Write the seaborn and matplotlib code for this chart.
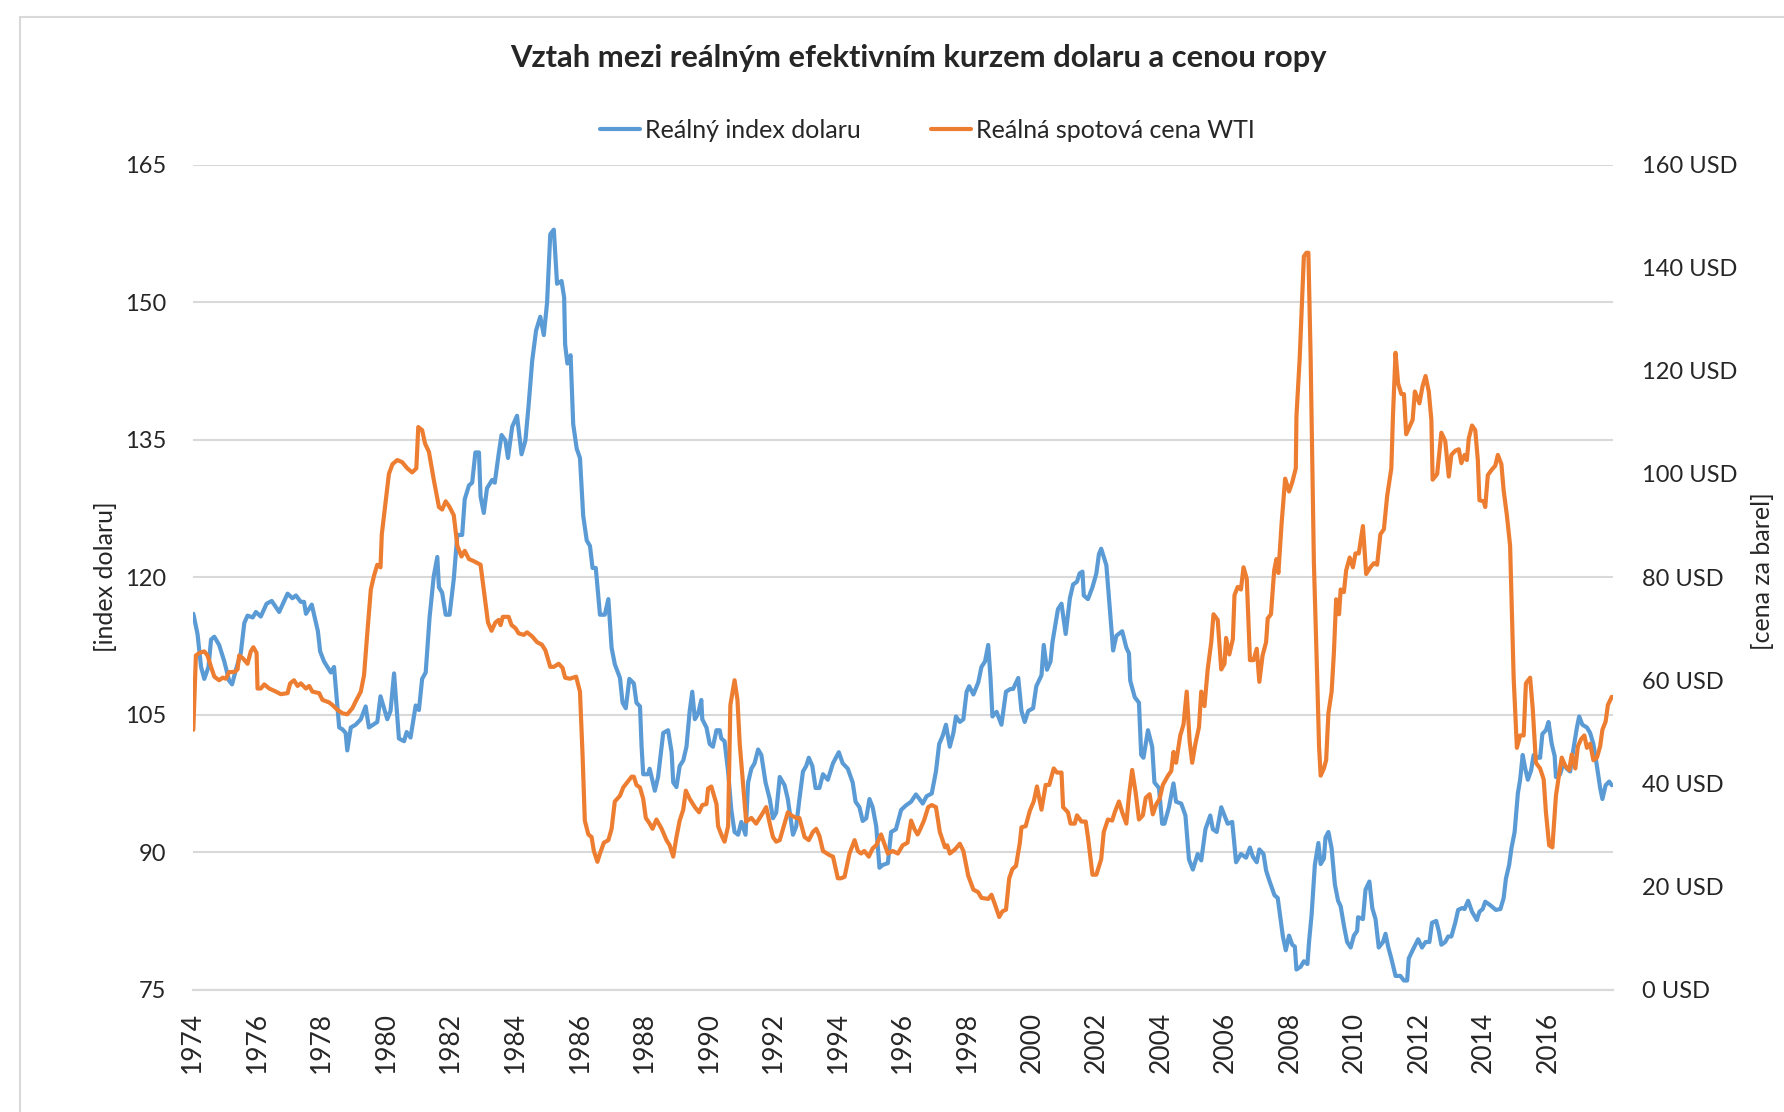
import numpy as np
import pandas as pd
import matplotlib
matplotlib.use("Agg")
import matplotlib.pyplot as plt
import seaborn as sns
from matplotlib.patches import Rectangle

# === Data ===
dollar_years = [
    1974.02, 1974.15, 1974.26, 1974.36, 1974.49, 1974.57, 1974.67, 1974.82, 1974.98, 1975.13,
    1975.22, 1975.34, 1975.49, 1975.60, 1975.70, 1975.86, 1975.96, 1976.11, 1976.29, 1976.45,
    1976.68, 1976.94, 1977.09, 1977.20, 1977.35, 1977.45, 1977.51, 1977.69, 1977.88, 1977.95,
    1978.07, 1978.28, 1978.38, 1978.54, 1978.64, 1978.74, 1978.79, 1978.90, 1979.05, 1979.21,
    1979.36, 1979.46, 1979.72, 1979.82, 1980.03, 1980.13, 1980.24, 1980.39, 1980.55, 1980.63,
    1980.75, 1980.91, 1981.01, 1981.11, 1981.22, 1981.34, 1981.47, 1981.58, 1981.63, 1981.73,
    1981.84, 1981.96, 1982.09, 1982.20, 1982.35, 1982.43, 1982.56, 1982.66, 1982.76, 1982.87,
    1982.92, 1983.02, 1983.12, 1983.28, 1983.36, 1983.48, 1983.57, 1983.69, 1983.77, 1983.90,
    1984.05, 1984.19, 1984.31, 1984.41, 1984.52, 1984.64, 1984.77, 1984.88, 1984.98, 1985.08,
    1985.19, 1985.29, 1985.43, 1985.51, 1985.54, 1985.61, 1985.71, 1985.79, 1985.90, 1986.00,
    1986.10, 1986.21, 1986.31, 1986.39, 1986.49, 1986.62, 1986.77, 1986.88, 1986.98, 1987.08,
    1987.24, 1987.32, 1987.42, 1987.53, 1987.67, 1987.75, 1987.86, 1987.91, 1987.96, 1988.11,
    1988.16, 1988.32, 1988.42, 1988.58, 1988.73, 1988.84, 1988.89, 1988.99, 1989.09, 1989.20,
    1989.30, 1989.40, 1989.48, 1989.56, 1989.66, 1989.76, 1989.79, 1989.92, 1990.02, 1990.12,
    1990.23, 1990.33, 1990.38, 1990.48, 1990.59, 1990.69, 1990.79, 1990.90, 1991.00, 1991.13,
    1991.21, 1991.31, 1991.41, 1991.52, 1991.62, 1991.75, 1991.88, 1991.98, 1992.08, 1992.19,
    1992.34, 1992.44, 1992.60, 1992.70, 1992.80, 1992.91, 1993.01, 1993.09, 1993.20, 1993.30,
    1993.42, 1993.53, 1993.68, 1993.84, 1994.02, 1994.14, 1994.30, 1994.45, 1994.54, 1994.66,
    1994.76, 1994.87, 1994.97, 1995.07, 1995.18, 1995.28, 1995.38, 1995.54, 1995.64, 1995.79,
    1995.95, 1996.10, 1996.26, 1996.41, 1996.52, 1996.62, 1996.74, 1996.90, 1997.03, 1997.13,
    1997.24, 1997.34, 1997.46, 1997.57, 1997.65, 1997.77, 1997.88, 1997.98, 1998.06, 1998.19,
    1998.34, 1998.44, 1998.55, 1998.65, 1998.72, 1998.78, 1998.91, 1999.06, 1999.20, 1999.34,
    1999.42, 1999.58, 1999.68, 1999.78, 1999.89, 2000.04, 2000.14, 2000.30, 2000.37, 2000.47,
    2000.58, 2000.64, 2000.74, 2000.81, 2000.92, 2001.05, 2001.18, 2001.28, 2001.40, 2001.48,
    2001.57, 2001.61, 2001.74, 2001.88, 2002.00, 2002.08, 2002.15, 2002.31, 2002.41, 2002.52,
    2002.62, 2002.80, 2002.93, 2003.01, 2003.05, 2003.19, 2003.32, 2003.39, 2003.46, 2003.60,
    2003.73, 2003.80, 2003.94, 2004.04, 2004.11, 2004.25, 2004.39, 2004.47, 2004.63, 2004.76,
    2004.87, 2004.99, 2005.14, 2005.25, 2005.38, 2005.53, 2005.61, 2005.73, 2005.87, 2005.97,
    2006.07, 2006.21, 2006.33, 2006.48, 2006.64, 2006.76, 2006.85, 2006.97, 2007.05, 2007.18,
    2007.26, 2007.36, 2007.52, 2007.62, 2007.71, 2007.78, 2007.87, 2007.97, 2008.07, 2008.15,
    2008.20, 2008.33, 2008.43, 2008.54, 2008.59, 2008.67, 2008.77, 2008.88, 2008.95, 2009.05,
    2009.10, 2009.19, 2009.29, 2009.39, 2009.49, 2009.57, 2009.67, 2009.77, 2009.88, 2009.98,
    2010.08, 2010.11, 2010.26, 2010.34, 2010.46, 2010.55, 2010.65, 2010.75, 2010.88, 2010.96,
    2011.04, 2011.14, 2011.27, 2011.42, 2011.53, 2011.63, 2011.68, 2011.80, 2011.97, 2012.09,
    2012.20, 2012.32, 2012.40, 2012.53, 2012.61, 2012.69, 2012.81, 2012.90, 2013.00, 2013.12,
    2013.21, 2013.33, 2013.41, 2013.52, 2013.64, 2013.79, 2013.87, 2013.97, 2014.05, 2014.21,
    2014.38, 2014.52, 2014.62, 2014.69, 2014.79, 2014.86, 2014.96, 2015.06, 2015.13, 2015.21,
    2015.29, 2015.37, 2015.47, 2015.55, 2015.68, 2015.75, 2015.82, 2015.93, 2016.01, 2016.11,
    2016.20, 2016.24, 2016.37, 2016.47, 2016.58, 2016.68, 2016.78, 2016.89, 2016.96, 2017.06,
    2017.20, 2017.30, 2017.40, 2017.51, 2017.61, 2017.68, 2017.78, 2017.89, 2017.97,
]
dollar_index = [
    116.0, 113.8, 110.2, 108.9, 110.2, 113.2, 113.5, 112.6, 110.8, 108.7,
    108.3, 109.9, 111.7, 115.0, 115.8, 115.6, 116.2, 115.7, 117.1, 117.4,
    116.2, 118.2, 117.7, 118.0, 117.3, 117.3, 116.0, 117.0, 114.1, 111.9,
    110.8, 109.6, 110.2, 103.6, 103.4, 103.0, 101.1, 103.6, 103.9, 104.5,
    105.9, 103.6, 104.2, 107.0, 104.5, 105.4, 109.5, 102.4, 102.1, 103.1,
    102.5, 106.0, 105.5, 108.9, 109.6, 115.6, 120.1, 122.2, 118.9, 118.3,
    115.9, 115.9, 119.8, 124.6, 124.6, 128.5, 130.0, 130.3, 133.6, 133.6,
    128.8, 127.0, 129.7, 130.6, 130.3, 133.4, 135.5, 134.9, 133.0, 136.4,
    137.6, 133.4, 134.9, 138.8, 143.6, 146.9, 148.4, 146.4, 149.9, 157.4,
    157.9, 152.0, 152.3, 150.5, 145.4, 143.3, 144.2, 136.7, 134.0, 133.0,
    126.7, 124.0, 123.4, 121.0, 121.0, 115.9, 115.9, 117.6, 112.3, 110.5,
    109.0, 106.3, 105.7, 108.9, 108.4, 106.3, 105.9, 101.5, 98.5, 98.5,
    99.1, 96.7, 98.2, 103.0, 103.3, 100.9, 97.6, 97.1, 99.4, 100.0,
    101.5, 105.4, 107.5, 104.5, 105.1, 106.6, 104.5, 103.6, 101.8, 101.5,
    103.3, 103.3, 102.4, 102.1, 98.8, 94.6, 92.2, 91.9, 93.3, 91.9,
    97.6, 99.1, 99.7, 101.2, 100.6, 97.6, 95.8, 93.7, 94.3, 98.2,
    97.3, 95.8, 91.9, 92.8, 95.8, 98.8, 99.4, 100.3, 99.4, 97.0,
    97.0, 98.5, 97.9, 99.7, 100.9, 99.7, 99.1, 97.6, 95.5, 94.9,
    93.4, 93.7, 95.8, 94.9, 92.8, 88.3, 88.6, 88.8, 92.2, 92.5,
    94.6, 95.1, 95.5, 96.3, 95.8, 95.3, 96.1, 96.4, 98.8, 101.8,
    102.7, 103.9, 101.5, 103.0, 104.8, 104.2, 104.5, 107.5, 108.1, 107.2,
    108.5, 110.2, 110.8, 112.6, 109.0, 104.8, 105.3, 103.9, 107.5, 107.8,
    107.8, 109.0, 105.4, 104.2, 105.4, 105.7, 108.1, 109.3, 112.6, 109.9,
    110.8, 112.9, 115.0, 116.5, 117.1, 113.8, 117.7, 119.2, 119.5, 120.4,
    120.6, 118.0, 117.6, 118.9, 120.4, 122.5, 123.1, 121.3, 116.8, 112.0,
    113.6, 114.1, 112.3, 111.7, 108.7, 106.9, 106.3, 100.6, 100.3, 103.3,
    101.5, 97.6, 97.0, 93.1, 93.1, 94.9, 97.5, 95.5, 95.3, 94.0,
    89.2, 88.1, 89.8, 89.1, 92.5, 94.0, 92.5, 92.2, 94.9, 94.0,
    93.1, 93.3, 88.9, 89.8, 89.4, 90.5, 89.5, 88.9, 90.3, 89.8,
    88.0, 86.9, 85.3, 85.0, 82.6, 80.8, 79.3, 80.9, 79.9, 79.7,
    77.2, 77.5, 78.1, 77.8, 80.2, 83.2, 88.6, 91.0, 88.7, 89.3,
    91.6, 92.2, 90.4, 86.5, 84.7, 84.1, 82.0, 80.2, 79.6, 80.9,
    81.4, 82.9, 82.7, 85.9, 86.8, 83.9, 82.7, 79.6, 80.2, 81.1,
    79.7, 78.4, 76.5, 76.5, 76.0, 76.0, 78.4, 79.3, 80.5, 79.6,
    80.2, 80.2, 82.3, 82.5, 81.4, 79.9, 80.2, 80.8, 80.8, 82.3,
    83.7, 83.9, 83.8, 84.7, 83.5, 82.6, 83.5, 83.8, 84.6, 84.2,
    83.7, 83.8, 85.0, 87.1, 88.6, 90.4, 92.2, 96.4, 97.9, 100.6,
    99.1, 97.9, 98.9, 100.6, 100.3, 100.3, 102.9, 103.3, 104.2, 101.8,
    100.5, 98.2, 98.5, 99.7, 99.1, 98.8, 101.2, 103.6, 104.8, 103.9,
    103.6, 103.0, 101.8, 99.4, 97.0, 95.8, 97.3, 97.7, 97.3,
]

oil_years = [
    1974.02, 1974.10, 1974.21, 1974.36, 1974.46, 1974.57, 1974.67, 1974.82, 1974.93, 1975.03,
    1975.13, 1975.29, 1975.39, 1975.44, 1975.55, 1975.70, 1975.80, 1975.88, 1975.98, 1976.01,
    1976.11, 1976.22, 1976.37, 1976.58, 1976.73, 1976.94, 1977.02, 1977.14, 1977.25, 1977.35,
    1977.51, 1977.61, 1977.71, 1977.92, 1978.02, 1978.23, 1978.33, 1978.48, 1978.64, 1978.79,
    1978.95, 1979.05, 1979.21, 1979.31, 1979.41, 1979.52, 1979.62, 1979.72, 1979.82, 1979.86,
    1979.98, 1980.08, 1980.19, 1980.34, 1980.49, 1980.65, 1980.80, 1980.93, 1980.99, 1981.11,
    1981.20, 1981.32, 1981.47, 1981.63, 1981.73, 1981.84, 1981.96, 1982.09, 1982.20, 1982.33,
    1982.43, 1982.56, 1982.71, 1982.92, 1983.02, 1983.15, 1983.26, 1983.38, 1983.48, 1983.54,
    1983.61, 1983.79, 1983.88, 1984.00, 1984.10, 1984.26, 1984.36, 1984.52, 1984.67, 1984.82,
    1984.93, 1985.08, 1985.19, 1985.34, 1985.46, 1985.54, 1985.69, 1985.88, 1986.00, 1986.08,
    1986.15, 1986.26, 1986.36, 1986.43, 1986.54, 1986.62, 1986.74, 1986.88, 1986.98, 1987.08,
    1987.24, 1987.34, 1987.49, 1987.60, 1987.67, 1987.75, 1987.86, 1987.96, 1988.04, 1988.16,
    1988.25, 1988.37, 1988.53, 1988.68, 1988.78, 1988.89, 1988.99, 1989.09, 1989.20, 1989.28,
    1989.40, 1989.56, 1989.69, 1989.79, 1989.92, 1989.97, 1990.07, 1990.23, 1990.28, 1990.41,
    1990.48, 1990.59, 1990.66, 1990.79, 1990.88, 1990.95, 1991.05, 1991.15, 1991.31, 1991.46,
    1991.62, 1991.77, 1991.90, 1991.98, 1992.08, 1992.19, 1992.34, 1992.44, 1992.55, 1992.70,
    1992.80, 1992.96, 1993.09, 1993.22, 1993.32, 1993.42, 1993.53, 1993.73, 1993.84, 1993.99,
    1994.09, 1994.20, 1994.35, 1994.51, 1994.61, 1994.71, 1994.81, 1994.95, 1995.07, 1995.18,
    1995.33, 1995.43, 1995.54, 1995.69, 1995.85, 1996.00, 1996.15, 1996.26, 1996.36, 1996.46,
    1996.52, 1996.66, 1996.79, 1996.90, 1997.03, 1997.15, 1997.31, 1997.38, 1997.46, 1997.62,
    1997.77, 1997.88, 1998.03, 1998.19, 1998.34, 1998.44, 1998.65, 1998.75, 1998.86, 1998.99,
    1999.09, 1999.20, 1999.30, 1999.40, 1999.51, 1999.63, 1999.68, 1999.81, 1999.94, 2000.06,
    2000.16, 2000.30, 2000.43, 2000.54, 2000.68, 2000.78, 2000.92, 2000.97, 2001.12, 2001.20,
    2001.33, 2001.40, 2001.54, 2001.67, 2001.74, 2001.88, 2002.00, 2002.15, 2002.23, 2002.36,
    2002.49, 2002.57, 2002.70, 2002.80, 2002.93, 2003.01, 2003.11, 2003.22, 2003.32, 2003.44,
    2003.53, 2003.65, 2003.75, 2003.86, 2003.96, 2004.06, 2004.22, 2004.32, 2004.39, 2004.47,
    2004.60, 2004.70, 2004.80, 2004.89, 2004.97, 2005.07, 2005.18, 2005.25, 2005.35, 2005.45,
    2005.56, 2005.63, 2005.76, 2005.87, 2005.97, 2006.02, 2006.12, 2006.23, 2006.28, 2006.38,
    2006.48, 2006.56, 2006.66, 2006.76, 2006.87, 2006.97, 2007.05, 2007.15, 2007.26, 2007.31,
    2007.41, 2007.51, 2007.58, 2007.64, 2007.74, 2007.85, 2007.97, 2008.07, 2008.18, 2008.20,
    2008.30, 2008.43, 2008.51, 2008.57, 2008.64, 2008.74, 2008.85, 2008.90, 2008.95, 2009.05,
    2009.12, 2009.19, 2009.29, 2009.36, 2009.43, 2009.52, 2009.57, 2009.67, 2009.74, 2009.85,
    2009.95, 2010.03, 2010.13, 2010.26, 2010.36, 2010.49, 2010.60, 2010.70, 2010.80, 2010.91,
    2011.01, 2011.14, 2011.19, 2011.27, 2011.35, 2011.45, 2011.53, 2011.60, 2011.70, 2011.80,
    2011.87, 2012.01, 2012.11, 2012.20, 2012.30, 2012.38, 2012.42, 2012.56, 2012.69, 2012.81,
    2012.92, 2013.00, 2013.12, 2013.23, 2013.31, 2013.41, 2013.48, 2013.54, 2013.64, 2013.74,
    2013.82, 2013.87, 2014.00, 2014.05, 2014.13, 2014.26, 2014.36, 2014.44, 2014.55, 2014.62,
    2014.72, 2014.82, 2014.88, 2014.93, 2015.03, 2015.13, 2015.24, 2015.31, 2015.44, 2015.52,
    2015.62, 2015.75, 2015.86, 2015.93, 2016.03, 2016.13, 2016.24, 2016.34, 2016.42, 2016.53,
    2016.65, 2016.73, 2016.84, 2016.92, 2017.02, 2017.12, 2017.20, 2017.30, 2017.40, 2017.51,
    2017.61, 2017.68, 2017.78, 2017.85, 2017.97,
]
oil_price = [
    50.4, 64.8, 65.3, 65.6, 64.8, 62.6, 60.7, 60.0, 60.5, 60.3,
    61.6, 61.6, 62.1, 64.8, 64.3, 63.2, 65.6, 66.4, 65.3, 58.4,
    58.4, 59.2, 58.4, 57.8, 57.3, 57.5, 59.4, 60.0, 58.9, 59.4,
    58.4, 58.9, 57.8, 57.5, 56.2, 55.7, 55.2, 54.3, 53.6, 53.4,
    54.6, 55.9, 57.8, 61.0, 69.1, 77.6, 80.3, 82.4, 81.9, 88.3,
    94.7, 100.0, 101.9, 102.7, 102.3, 101.1, 100.3, 101.1, 109.1, 108.5,
    105.9, 104.3, 98.9, 93.6, 93.1, 94.7, 93.6, 92.0, 86.1, 84.0,
    85.1, 83.5, 83.1, 82.4, 77.6, 71.2, 69.6, 71.2, 71.7, 70.7,
    72.3, 72.3, 70.7, 70.1, 69.1, 68.8, 69.3, 68.5, 67.4, 66.9,
    65.8, 62.6, 62.6, 63.2, 62.4, 60.5, 60.3, 60.7, 57.8, 45.6,
    32.8, 30.1, 29.6, 26.9, 24.8, 26.4, 28.5, 29.0, 31.2, 36.5,
    37.6, 39.2, 40.4, 41.3, 41.3, 39.7, 39.2, 37.0, 33.3, 32.2,
    31.2, 33.0, 31.2, 29.0, 28.0, 25.8, 29.6, 32.8, 34.9, 38.6,
    37.0, 35.4, 34.4, 35.8, 36.0, 39.0, 39.4, 36.0, 31.7, 29.6,
    28.7, 31.7, 55.2, 60.0, 56.2, 47.7, 40.2, 32.6, 33.3, 32.2,
    33.8, 35.4, 31.7, 29.6, 28.7, 29.0, 32.2, 34.4, 33.8, 33.3,
    33.3, 29.6, 29.0, 30.6, 31.2, 29.8, 26.9, 26.1, 25.8, 21.6,
    21.6, 21.9, 26.4, 29.0, 26.9, 26.4, 26.9, 25.8, 27.4, 28.0,
    30.1, 28.3, 26.4, 26.9, 26.4, 28.0, 28.5, 32.8, 31.2, 30.1,
    30.8, 32.8, 35.4, 35.8, 35.4, 30.6, 27.6, 28.0, 26.4, 27.2,
    28.3, 26.9, 22.1, 19.4, 18.9, 17.8, 17.6, 18.4, 16.5, 14.1,
    15.2, 15.5, 21.6, 23.4, 24.0, 28.5, 31.5, 31.7, 34.7, 36.5,
    39.4, 34.9, 39.7, 39.7, 42.9, 42.1, 42.1, 35.4, 34.4, 32.2,
    32.2, 33.8, 32.6, 32.6, 29.6, 22.3, 22.3, 25.3, 30.6, 33.0,
    32.8, 34.4, 36.5, 34.4, 32.2, 37.6, 42.6, 38.1, 33.0, 33.8,
    37.2, 37.9, 34.0, 36.0, 37.0, 39.7, 41.5, 42.4, 46.1, 44.0,
    49.3, 51.4, 57.8, 48.2, 44.0, 47.7, 50.9, 57.8, 55.0, 62.1,
    67.4, 72.8, 71.7, 62.1, 63.2, 68.2, 65.0, 68.0, 76.5, 78.1,
    77.6, 81.9, 79.7, 63.9, 63.9, 66.1, 59.7, 64.8, 67.4, 72.0,
    72.8, 81.3, 83.5, 80.8, 90.4, 99.1, 96.6, 98.4, 101.1, 111.2,
    122.4, 142.2, 142.9, 142.9, 122.4, 82.9, 58.9, 47.2, 41.5, 42.9,
    44.5, 53.6, 57.8, 65.3, 75.7, 72.8, 77.6, 77.1, 81.3, 83.8,
    81.9, 84.6, 84.6, 89.9, 80.6, 81.9, 82.7, 82.4, 88.3, 89.3,
    95.7, 101.1, 111.2, 123.5, 117.6, 115.5, 115.5, 107.7, 109.1, 110.5,
    116.0, 113.7, 117.1, 119.0, 116.0, 110.5, 98.9, 100.0, 108.0, 106.4,
    99.5, 103.7, 104.5, 104.8, 102.1, 103.7, 102.7, 106.9, 109.4, 108.5,
    102.7, 94.9, 94.7, 93.6, 99.8, 100.9, 101.6, 103.7, 101.9, 96.8,
    92.0, 86.1, 72.3, 60.5, 46.9, 49.3, 49.3, 59.4, 60.5, 54.6,
    44.0, 42.9, 40.8, 34.4, 28.0, 27.6, 37.6, 41.8, 45.0, 43.4,
    42.6, 45.6, 42.9, 47.2, 48.6, 49.3, 46.9, 47.7, 44.5, 45.0,
    47.2, 50.4, 52.0, 55.2, 56.8,
]

year_ticks = list(range(1974, 2019, 2))
year_labels = [str(y) if y < 2018 else "" for y in year_ticks]
left_ticks = [75, 90, 105, 120, 135, 150, 165]
right_ticks = [0, 20, 40, 60, 80, 100, 120, 140, 160]

title = "Vztah mezi reálným efektivním kurzem dolaru a cenou ropy"
name_dollar = "Reálný index dolaru"
name_oil = "Reálná spotová cena WTI"

dollar_df = pd.DataFrame({"rok": dollar_years, "index": dollar_index})
oil_df = pd.DataFrame({"rok": oil_years, "cena": oil_price})

# === Style ===
sns.set_style("white")
plt.rcParams["font.family"] = ["Lato", "DejaVu Sans"]

BLUE = "#5B9BD5"
ORANGE = "#ED7D31"
GRID = "#D9D9D9"

fig = plt.figure(figsize=(17.84, 11.12), dpi=100)
ax = fig.add_axes([0.108, 0.110, 0.796, 0.742])
ax2 = ax.twinx()

sns.lineplot(data=dollar_df, x="rok", y="index", ax=ax, color=BLUE, lw=3.0, label=name_dollar, legend=False)
sns.lineplot(data=oil_df, x="rok", y="cena", ax=ax2, color=ORANGE, lw=3.0, label=name_oil, legend=False)

ax.set_xlim(1974, 2018)
ax.set_ylim(75, 165)
ax2.set_ylim(0, 160)

ax.set_yticks(left_ticks)
ax.set_yticklabels([str(v) for v in left_ticks])
ax2.set_yticks(right_ticks)
ax2.set_yticklabels([f"{v} USD" for v in right_ticks])
ax.set_xticks(year_ticks)
ax.set_xticklabels(year_labels, rotation=90)

ax.yaxis.grid(True, color=GRID, lw=1.5)
ax.xaxis.grid(False)
ax2.grid(False)
ax.set_axisbelow(True)

for a in (ax, ax2):
    for s in ("top", "left", "right"):
        a.spines[s].set_visible(False)
    a.spines["bottom"].set_color(GRID)
    a.spines["bottom"].set_linewidth(1.5)

ax.tick_params(axis="x", direction="out", length=7, width=1.5, color=GRID, labelsize=19, pad=9)
ax.tick_params(axis="y", length=0, labelsize=17, pad=19)
ax2.tick_params(axis="y", length=0, labelsize=17, pad=21)

ax.set_xlabel("")
ax.set_ylabel("")
ax2.set_ylabel("")
fig.text(0.059, 0.481, "[index dolaru]", rotation=90, ha="center", va="center", fontsize=18)
fig.text(0.988, 0.486, "[cena za barel]", rotation=90, ha="center", va="center", fontsize=18)

fig.suptitle(title, x=0.515, y=0.960, fontsize=22.2, fontweight="bold")

h1, l1 = ax.get_legend_handles_labels()
h2, l2 = ax2.get_legend_handles_labels()
fig.legend(h1 + h2, l1 + l2, loc="center", bbox_to_anchor=(0.52, 0.883), ncol=2,
           frameon=False, fontsize=18, handlelength=1.6, handletextpad=0.2, columnspacing=2.8)

# outer chart frame (only top and left edges are visible in the crop)
fig.patches.append(Rectangle((0.011, -0.1), 1.2, 1.085, transform=fig.transFigure,
                             fill=False, edgecolor="#D9D9D9", lw=1.5))

fig.savefig("out.png", dpi=100)
